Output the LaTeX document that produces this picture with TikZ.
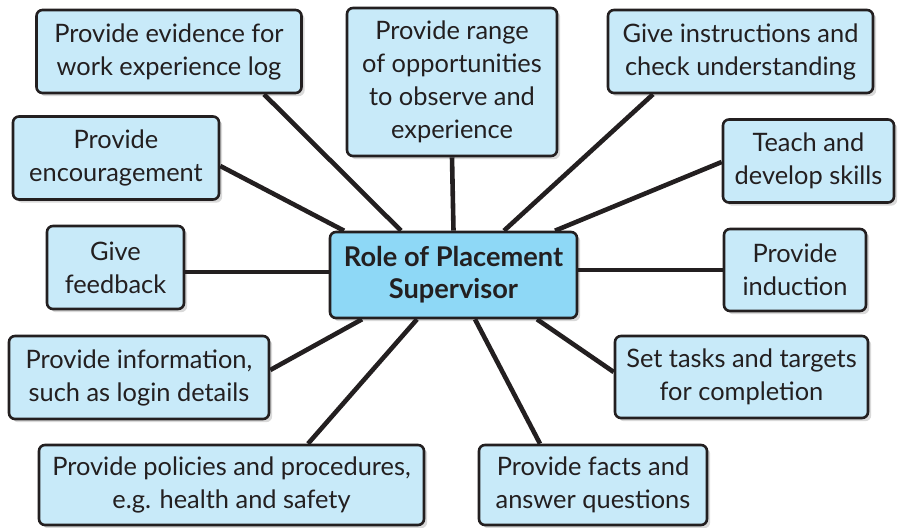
\documentclass[tikz,border=0pt]{standalone}
\usepackage{fontspec}
\setmainfont{Lato}
\usepackage{tikz}
\usetikzlibrary{positioning,shadows,calc}
\definecolor{boxblue}{HTML}{C8EAF9}
\definecolor{hubblue}{HTML}{8ED8F6}
\definecolor{inkdark}{HTML}{231F20}

\begin{document}
\begin{tikzpicture}[x=0.5pt, y=-0.5pt,
    box/.style={draw=inkdark, fill=boxblue, rounded corners=3pt, line width=1.3pt,
        align=center, inner sep=0pt, text=inkdark,
        font=\fontsize{12.7}{16.5}\selectfont,
        drop shadow={opacity=0.3, shadow xshift=1.6pt, shadow yshift=-1.6pt}},
    hub/.style={box, fill=hubblue, font=\fontsize{13.6}{16}\selectfont\bfseries},
    link/.style={draw=inkdark, line width=2.3pt}]
    \useasboundingbox (0,0) rectangle (898,528);
    % 中心节点
    \node[hub, minimum width=123.5pt, minimum height=43pt] (ctr) at (453.5,275) {Role of Placement\\Supervisor};
    % 上方一排
    \node[box, minimum width=132.5pt, minimum height=41.5pt] (evid) at (169,51.5) {Provide evidence for\\work experience log};
    \node[box, minimum width=105pt, minimum height=74pt] (range) at (452,82) {Provide range\\of opportunities\\to observe and\\experience};
    \node[box, minimum width=132.5pt, minimum height=41.5pt] (instr) at (740.5,51.5) {Give instructions and\\check understanding};
    % 左右两侧
    \node[box, minimum width=103pt, minimum height=41.5pt] (encour) at (116,158) {Provide\\encouragement};
    \node[box, minimum width=85.5pt, minimum height=41.5pt] (teach) at (808.5,161) {Teach and\\develop skills};
    \node[box, minimum width=68.5pt, minimum height=41.5pt] (feedb) at (115.5,267.5) {Give\\feedback};
    \node[box, minimum width=71pt, minimum height=41pt] (induc) at (795,270) {Provide\\induction};
    \node[box, minimum width=130pt, minimum height=41.5pt] (info) at (139,377.5) {Provide information,\\such as login details};
    \node[box, minimum width=126.5pt, minimum height=41pt] (tasks) at (741.5,377) {Set tasks and targets\\for completion};
    % 下方一排
    \node[box, minimum width=192.5pt, minimum height=40pt] (policy) at (231.5,485) {Provide policies and procedures,\\e.g. health and safety};
    \node[box, minimum width=114pt, minimum height=40pt] (facts) at (593,485) {Provide facts and\\answer questions};
    % 连线(从各框到中心框)
    \draw[link] ($(evid.south)+(95,0)$) -- ($(ctr.north)+(-52.5,0)$);
    \draw[link] (range.south) -- (ctr.north);
    \draw[link] ($(instr.south)+(-87.5,0)$) -- ($(ctr.north)+(50.5,0)$);
    \draw[link] ($(encour.east)+(0,8)$) -- ($(ctr.north)+(-109.5,0)$);
    \draw[link] ($(teach.west)+(0,1)$) -- ($(ctr.north)+(101.5,0)$);
    \draw[link] ($(feedb.east)+(0,4.5)$) -- ($(ctr.west)+(0,-3)$);
    \draw[link] ($(ctr.east)+(0,-5)$) -- (induc.west);
    \draw[link] ($(info.east)+(0,-7.5)$) -- ($(ctr.south)+(-91.5,0)$);
    \draw[link] ($(ctr.south)+(83.5,0)$) -- ($(tasks.west)+(0,-5)$);
    \draw[link] ($(ctr.south)+(-36.5,0)$) -- ($(policy.north)+(76.5,0)$);
    \draw[link] ($(ctr.south)+(21.5,0)$) -- ($(facts.north)+(-53,0)$);
\end{tikzpicture}
\end{document}
